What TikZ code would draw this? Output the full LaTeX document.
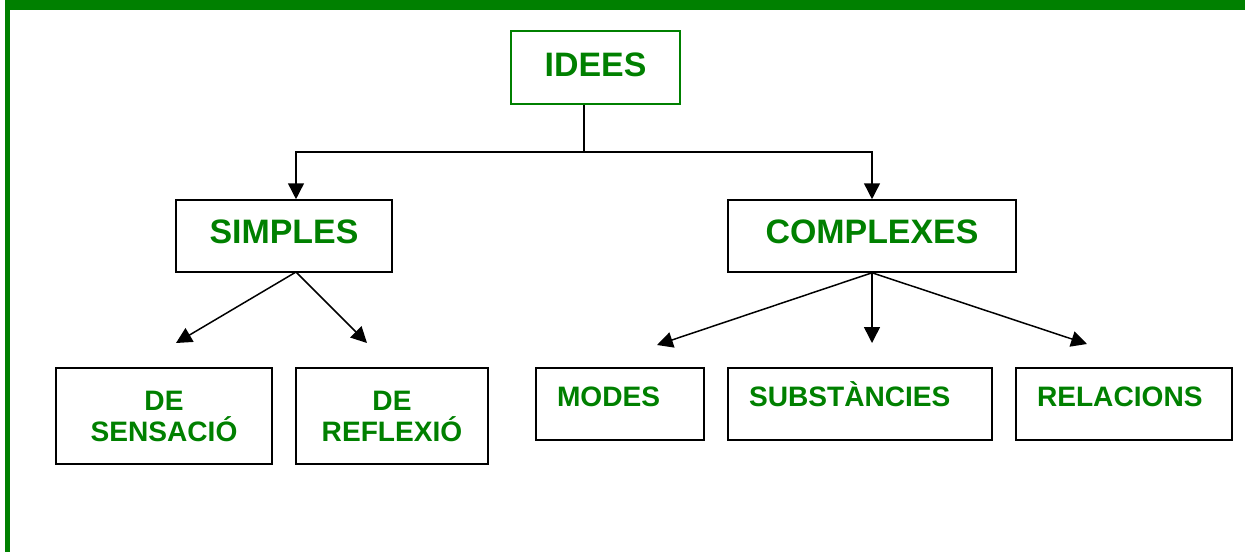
\documentclass[tikz,border=0pt]{standalone}
\usepackage{fontspec}
\setmainfont{Liberation Sans}
\usetikzlibrary{arrows.meta}
\definecolor{ideagreen}{RGB}{0,128,0}
\tikzset{
  box/.style={rectangle, draw, line width=0.9pt, inner sep=0pt, text=ideagreen},
  topfont/.style={font=\fontsize{19.3pt}{22pt}\selectfont\bfseries},
  lowfont/.style={font=\fontsize{16pt}{17.6pt}\selectfont\bfseries},
  leftbox/.style={box, lowfont, inner xsep=0.42cm, align=left, text height=0.76cm, text depth=0.68cm}
}
\begin{document}
\begin{tikzpicture}[x=0.02cm, y=-0.02cm, >={Triangle[length=9pt,width=9pt]}, line width=0.85pt]
	\useasboundingbox (0,0) rectangle (1245,552);
	%Frame
	\fill[ideagreen] (5,0) rectangle (1245,10);
	\fill[ideagreen] (5,0) rectangle (10,552);
	%Root
	\node [box, topfont, draw=ideagreen, minimum width=3.38cm, text height=0.9cm, text depth=0.56cm] (idees) at (595.5,67.5) {IDEES};
	%Kinds
	\node [box, topfont, minimum width=4.32cm, text height=0.86cm, text depth=0.58cm] (simples) at (284,236) {SIMPLES};
	\node [box, topfont, minimum width=5.76cm, text height=0.86cm, text depth=0.58cm] (complexes) at (872,236) {COMPLEXES};
	\coordinate (split) at (584,152);
	\coordinate (sroot) at (296,272);
	\draw (idees.south -| split) -- (split);
	\draw[->] (split) -| (simples.north -| sroot);
	\draw[->] (split) -| (complexes.north);
	%Simple ideas
	\node [box, lowfont, align=center, minimum width=4.32cm, minimum height=1.92cm] (sensacio) at (164,416) {DE\\SENSACIÓ};
	\node [box, lowfont, align=center, minimum width=3.84cm, minimum height=1.92cm] (reflexio) at (392,416) {DE\\REFLEXIÓ};
	\coordinate (s1) at (176,343);
	\coordinate (s2) at (367,343);
	\draw[->] (sroot) -- (s1);
	\draw[->] (sroot) -- (s2);
	%Complex ideas
	\node [leftbox, text width=2.52cm] (modes) at (620,404) {MODES};
	\node [leftbox, text width=4.44cm] (substancies) at (860,404) {SUBSTÀNCIES};
	\node [leftbox, text width=3.48cm] (relacions) at (1124,404) {RELACIONS};
	\coordinate (c1) at (657,345);
	\coordinate (c2) at (872,343);
	\coordinate (c3) at (1087,344);
	\draw[->] (complexes.south) -- (c1);
	\draw[->] (complexes.south) -- (c2);
	\draw[->] (complexes.south) -- (c3);
\end{tikzpicture}
\end{document}
